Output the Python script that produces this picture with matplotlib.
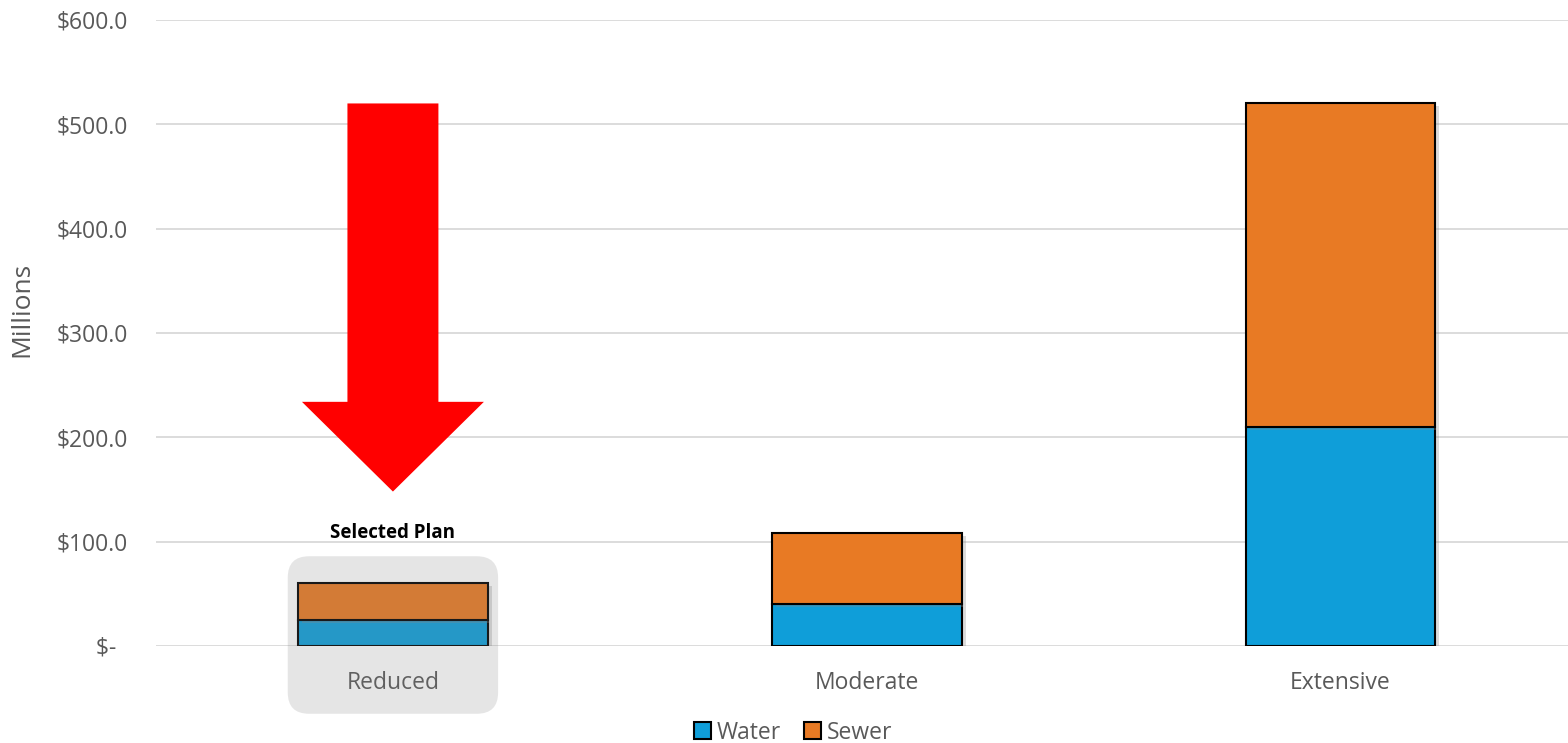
import numpy as np
import matplotlib
matplotlib.use('Agg')
import matplotlib.pyplot as plt
import matplotlib.patheffects as pe
from matplotlib.patches import FancyArrow, FancyBboxPatch, Patch

# Data (millions of dollars):
plans = ['Reduced', 'Moderate', 'Extensive']
water = [25, 40, 210]
sewer = [35, 68, 310]
y_ticks = [0, 100, 200, 300, 400, 500, 600]
y_tick_labels = ['$-  ', '$100.0', '$200.0', '$300.0', '$400.0', '$500.0', '$600.0']
selected = 0

water_color = '#0F9ED9'
sewer_color = '#E87A24'

plt.rcParams['font.family'] = ['Open Sans', 'DejaVu Sans']

fig = plt.figure(figsize=(15.68, 7.43), dpi=100)
ax = fig.add_axes([0.0995, 0.1306, 0.9005, 0.8425])

x = np.arange(len(plans))
shadow = [pe.SimplePatchShadow(offset=(3, -2), shadow_rgbFace='#888888', alpha=0.3),
          pe.Normal()]
ax.bar(x, water, width=0.4, color=water_color, edgecolor='black', linewidth=1.5,
       zorder=3, path_effects=shadow)
ax.bar(x, sewer, width=0.4, bottom=water, color=sewer_color, edgecolor='black',
       linewidth=1.5, zorder=3, path_effects=shadow)

ax.set_xlim(-0.5, 2.48)
ax.set_ylim(0, 600)
ax.set_yticks(y_ticks)
ax.set_yticklabels(y_tick_labels)
ax.set_xticks(x)
ax.set_xticklabels(plans)
ax.tick_params(axis='y', length=0, pad=20, labelsize=16.5, labelcolor='#595959')
ax.tick_params(axis='x', length=0, pad=18, labelsize=16.5, labelcolor='#595959')
ax.set_ylabel('Millions', fontsize=19, color='#595959',
              family=['Liberation Sans Narrow', 'Open Sans'])
ax.yaxis.set_label_coords(-0.086, 0.537)
for s in ax.spines.values():
    s.set_visible(False)
ax.grid(axis='y', color='#D9D9D9', linewidth=1.3, zorder=0)
ax.set_axisbelow(True)

# highlight box around the selected plan
box = FancyBboxPatch((selected - 0.222, -65), 0.444, 151,
                     boxstyle='round,pad=0,rounding_size=0.045',
                     mutation_aspect=454, facecolor='#808080', alpha=0.2,
                     edgecolor='none', clip_on=False, zorder=5)
ax.add_patch(box)

# big red arrow pointing at the selected plan
top = water[2] + sewer[2]
ax.add_patch(FancyArrow(selected, top, 0, -372, width=0.192, head_width=0.384,
                        head_length=86, length_includes_head=True,
                        color='#FF0000', linewidth=0, zorder=6))
ax.text(selected, 108, 'Selected Plan', ha='center', va='center',
        fontsize=13.5, fontweight='bold', color='black')

handles = [Patch(facecolor=water_color, edgecolor='black', linewidth=1.5, label='Water'),
           Patch(facecolor=sewer_color, edgecolor='black', linewidth=1.5, label='Sewer')]
fig.legend(handles=handles, loc='lower center', bbox_to_anchor=(0.506, -0.03), ncol=2,
           frameon=False, fontsize=16.5, handlelength=0.75, handleheight=0.75,
           handletextpad=0.25, columnspacing=1.0, labelcolor='#595959')

plt.savefig('out.png', dpi=100)
